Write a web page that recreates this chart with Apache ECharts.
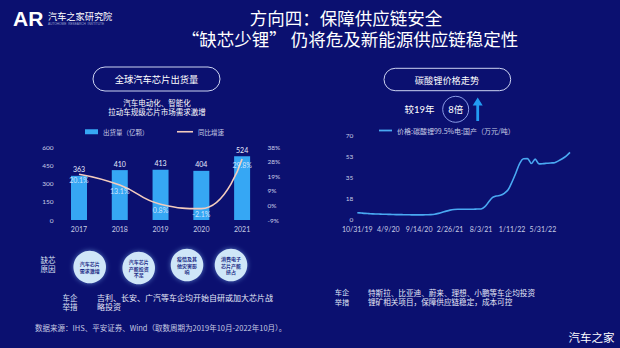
<!DOCTYPE html>
<html><head><meta charset="utf-8">
<script src="https://cdn.jsdelivr.net/npm/echarts@6/dist/echarts.min.js"></script>
<style>html,body{margin:0;padding:0;background:#0b1070;}#c{width:620px;height:348px;}</style>
</head><body><div id="c"></div>
<script>
// ---- data ----
const years = ['2017','2018','2019','2020','2021'];
const shipments = [363, 410, 413, 404, 524];
const growth = [20.1, 13.1, 0.8, -2.1, 29.8];
const shipmentTicks = ['0','150','300','450','600'];
const growthTicks = ['-9%','0%','9%','19%','28%','38%'];

const priceDates = ['10/31/19','11/20/19','12/10/19','12/30/19','1/20/20','2/10/20','3/2/20','3/20/20',
  '4/9/20','4/29/20','5/19/20','6/8/20','6/28/20','7/18/20','8/7/20','8/27/20',
  '9/14/20','10/5/20','10/26/20','11/16/20','12/7/20','12/28/20','1/18/21','2/6/21',
  '2/26/21','3/18/21','4/7/21','4/27/21','5/17/21','6/6/21','6/26/21','7/15/21',
  '8/3/21','8/23/21','9/12/21','10/2/21','10/22/21','11/11/21','12/1/21','12/21/21',
  '1/11/22','1/28/22','2/14/22','3/3/22','3/20/22','4/6/22','4/23/22','5/14/22',
  '5/31/22','6/18/22','7/6/22','7/24/22','8/11/22','8/29/22','9/16/22','10/4/22'];
const lithiumPrice = [5.5,5.2,4.9,4.7,4.5,4.4,4.3,4.2,
  4.1,4.0,3.9,3.9,3.8,3.8,3.7,3.7,
  3.7,3.7,3.8,3.9,4.2,4.9,5.8,6.8,
  7.6,8.1,8.3,8.3,8.3,8.3,8.4,8.5,
  8.6,10.5,14.5,18.2,19.4,19.9,21.5,24.5,
  31.0,38.5,46.5,50.3,50.4,46.3,50.0,46.0,
  46.2,46.5,46.8,47.0,48.5,50.3,52.5,55.6];
const priceTicks = ['0','18','35','53','70'];

const FF = 'Lato, "Noto Sans CJK SC", sans-serif';
const CJK = '"Noto Sans CJK SC", sans-serif';
const LBL = '#c9cde6';

function txt(text, x, y, size, opts) {
  opts = opts || {};
  return {
    type: 'text', silent: true, z: 10,
    style: Object.assign({
      text: text, x: x, y: y, fill: '#ffffff', fontSize: size, fontFamily: CJK,
      align: 'center', verticalAlign: 'middle'
    }, opts)
  };
}

const chart = echarts.init(document.getElementById('c'), null, {renderer: 'svg'});

const circleTexts = [
  ['汽车芯片\n需求激增', 89.7, 267],
  ['汽车芯片\n产能投资\n不足', 138.7, 268],
  ['疫情及其\n他灾害影\n响', 187, 265],
  ['消费电子\n芯片产能\n挤占', 231, 265]
];

const graphics = [
  // logo
  txt('AR', 13, 18.5, 21, {align: 'left', fontFamily: '"Liberation Sans", sans-serif', fontWeight: 'bold'}),
  txt('汽车之家研究院', 48, 16, 9.2, {align: 'left'}),
  txt('AUTOHOME  RESEARCH  INSTITUTE', 48, 24, 3.2, {align: 'left', fill: '#9aa2d0', fontFamily: '"Liberation Sans", sans-serif'}),
  // title
  txt('方向四：保障供应链安全', 346, 17.5, 17.5),
  txt('“缺芯少锂” 仍将危及新能源供应链稳定性', 350, 38, 17.5),
  // left pill
  {type: 'rect', silent: true, shape: {x: 93, y: 67, width: 127, height: 24, r: 12},
   style: {fill: 'none', stroke: '#cdd4f2', lineWidth: 1}},
  txt('全球汽车芯片出货量', 156.5, 79, 9.3),
  txt('汽车电动化、智能化', 157, 102.7, 7.5),
  txt('拉动车规级芯片市场需求激增', 157, 111.9, 7.5),
  // right pill
  {type: 'rect', silent: true, shape: {x: 384, y: 68.3, width: 126.7, height: 22.4, r: 11.2},
   style: {fill: 'none', stroke: '#cdd4f2', lineWidth: 1}},
  txt('碳酸锂价格走势', 447, 79.5, 9.2),
  txt('较19年', 419.5, 109.3, 9.5, {fontFamily: FF}),
  {type: 'circle', silent: true, shape: {cx: 455.7, cy: 109.3, r: 13},
   style: {fill: 'none', stroke: '#8a9be6', lineWidth: 1}},
  txt('8倍', 455.7, 109.3, 9.5, {fontFamily: FF}),
  {type: 'polygon', silent: true, shape: {points: [[472.7,105.5],[477.7,97.5],[482.7,105.5],[479.1,105.5],[479.1,121],[476.3,121],[476.3,105.5]]},
   style: {fill: '#229cf3'}},
  // reasons
  txt('缺芯', 48, 259, 7.5, {fill: '#dfe3f5'}),
  txt('原因', 48, 268.5, 7.5, {fill: '#dfe3f5'}),
  txt('车企', 70, 297, 7.5, {fill: '#dfe3f5'}),
  txt('举措', 70, 306.5, 7.5, {fill: '#dfe3f5'}),
  txt('吉利、长安、广汽等车企均开始自研或加大芯片战', 97, 297, 8, {align: 'left', fill: '#e6e9f8'}),
  txt('略投资', 97, 306.7, 8, {align: 'left', fill: '#e6e9f8'}),
  txt('车企', 342, 292.3, 7.2, {fill: '#dfe3f5'}),
  txt('举措', 342, 301.7, 7.2, {fill: '#dfe3f5'}),
  txt('特斯拉、比亚迪、蔚来、理想、小鹏等车企均投资', 368, 292.3, 7.6, {align: 'left', fill: '#e6e9f8'}),
  txt('锂矿相关项目，保障供应链稳定，成本可控', 368, 301.7, 7.6, {align: 'left', fill: '#e6e9f8'}),
  txt('数据来源：IHS、平安证券、Wind（取数周期为2019年10月-2022年10月）。', 35, 327.7, 7.5, {align: 'left', fill: '#c7cbe3'}),
  txt('汽车之家', 591.5, 336.5, 11.5, {shadowBlur: 2, shadowColor: 'rgba(0,0,0,0.6)'})
];
circleTexts.forEach(function (c) {
  graphics.push({type: 'circle', silent: true, z: 5, shape: {cx: c[1], cy: c[2], r: 16.3},
    style: {fill: '#cfe6f8', shadowBlur: 5, shadowColor: 'rgba(140,200,255,0.55)'}});
  graphics.push(txt(c[0], c[1], c[2], 5, {lineHeight: 6.4, fill: '#1b2a86', fontWeight: 'bold'}));
});

const option = {
  backgroundColor: '#0b1070',
  animation: false,
  textStyle: {fontFamily: FF},
  legend: [
    {data: ['出货量（亿颗）'], left: 85, top: 128.5, padding: 0, icon: 'rect', itemWidth: 13, itemHeight: 5,
     textStyle: {fontSize: 6.5, color: LBL, fontFamily: CJK}},
    {data: ['同比增速'], left: 177, top: 128.5, padding: 0, icon: 'rect', itemWidth: 16, itemHeight: 1.6,
     textStyle: {fontSize: 6.5, color: LBL, fontFamily: CJK}},
    {data: ['价格:碳酸锂99.5%电:国产（万元/吨）'], left: 379, top: 127, padding: 0, icon: 'rect', itemWidth: 13, itemHeight: 1.8,
     textStyle: {fontSize: 7, color: LBL, fontFamily: CJK}}
  ],
  grid: [
    {left: 58.6, right: 357.5, top: 147, bottom: 128},
    {left: 357.3, right: 50, top: 135, bottom: 128.7}
  ],
  xAxis: [
    {type: 'category', gridIndex: 0, data: years, axisLine: {show: false}, axisTick: {show: false},
     axisLabel: {color: LBL, fontSize: 7, margin: 5}},
    {type: 'category', gridIndex: 1, data: priceDates, boundaryGap: false, axisLine: {show: false}, axisTick: {show: false},
     axisLabel: {color: LBL, fontSize: 7, margin: 6, interval: 7, hideOverlap: false}}
  ],
  yAxis: [
    {type: 'value', gridIndex: 0, min: 0, max: 600, interval: 150, splitLine: {show: false},
     axisLabel: {color: LBL, fontSize: 6.5, margin: 5, formatter: function (v) { return shipmentTicks[Math.round(v / 150)]; }}},
    {type: 'value', gridIndex: 0, position: 'right', min: -9.4, max: 37.6, interval: 9.4, splitLine: {show: false},
     axisLabel: {color: LBL, fontSize: 6.5, margin: 5, formatter: function (v) { return growthTicks[Math.round((v + 9.4) / 9.4)]; }}},
    {type: 'value', gridIndex: 1, min: 0, max: 70, interval: 17.5, splitLine: {show: false},
     axisLabel: {color: LBL, fontSize: 6.5, margin: 4, formatter: function (v) { return priceTicks[Math.round(v / 17.5)]; }}}
  ],
  series: [
    {name: '出货量（亿颗）', type: 'bar', xAxisIndex: 0, yAxisIndex: 0, data: shipments, barWidth: 16,
     itemStyle: {color: '#36a7f4'},
     label: {show: true, position: 'top', distance: 3, fontSize: 7, color: '#e8ecff'}},
    {name: '同比增速', type: 'line', xAxisIndex: 0, yAxisIndex: 1, data: growth, smooth: true, z: 5,
     symbol: 'circle', symbolSize: 0.1, lineStyle: {color: '#f3cbbd', width: 1.6}, itemStyle: {color: '#f3cbbd'},
     label: {show: true, position: 'bottom', distance: 2, fontSize: 7, color: 'rgba(232,240,255,0.85)', formatter: '{c}%'}},
    {name: '价格:碳酸锂99.5%电:国产（万元/吨）', type: 'line', xAxisIndex: 1, yAxisIndex: 2, data: lithiumPrice,
     smooth: 0.3, symbol: 'none', lineStyle: {color: '#4aa9f2', width: 1.6}, itemStyle: {color: '#4aa9f2'}}
  ],
  graphic: graphics
};
chart.setOption(option);
</script>
</body></html>
